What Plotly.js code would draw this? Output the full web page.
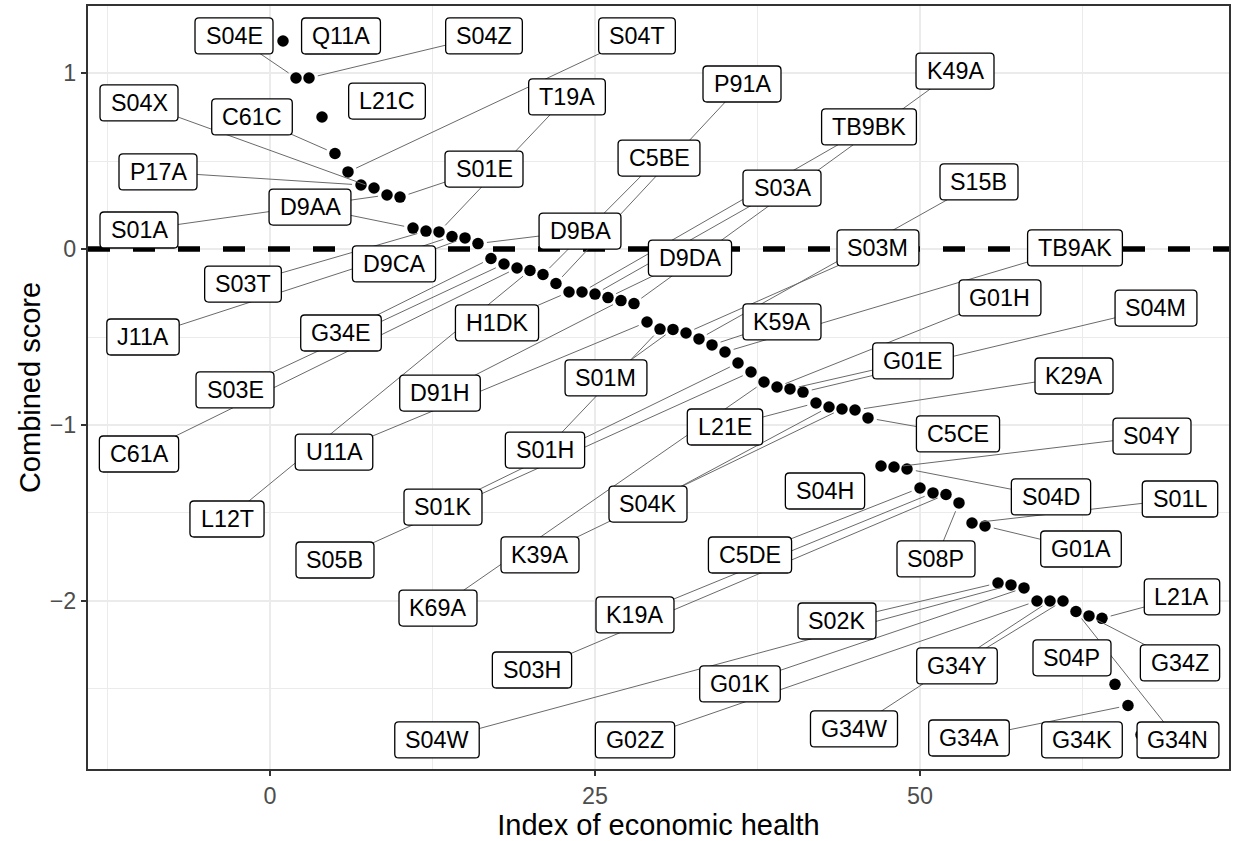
<!DOCTYPE html>
<html><head><meta charset="utf-8">
<script src="https://cdn.plot.ly/plotly-3.0.1.min.js"></script>
<style>html,body{margin:0;padding:0;background:#fff}</style>
</head><body><div id="chart" style="width:1235px;height:841px"></div>
<script>
// ---- data ----
const economicIndex = [1,2,3,4,5,6,7,8,9,10,11,12,13,14,15,16,17,18,19,20,21,22,23,24,25,26,27,28,29,30,
  31,32,33,34,35,36,37,38,39,40,41,42,43,44,45,46,47,48,49,50,51,52,53,54,55,56,57,58,59,60,61,62,63,64,65,66,67];
const combinedScore = [1.182,0.972,0.972,0.750,0.543,0.438,0.364,0.347,0.307,0.295,
  0.119,0.102,0.097,0.071,0.063,0.031,-0.054,-0.085,-0.108,-0.122,
  -0.145,-0.196,-0.244,-0.244,-0.256,-0.276,-0.293,-0.310,-0.415,-0.455,
  -0.457,-0.477,-0.511,-0.545,-0.585,-0.648,-0.699,-0.756,-0.784,-0.795,
  -0.813,-0.875,-0.898,-0.909,-0.915,-0.960,-1.233,-1.239,-1.250,-1.358,
  -1.386,-1.395,-1.443,-1.557,-1.574,-1.898,-1.909,-1.926,-2.000,-2.000,
  -2.000,-2.060,-2.085,-2.099,-2.474,-2.594,-2.761];
const pointLabels = ['Q11A','S04E','S04Z','L21C','C61C','S04T','P17A','S04X','S01A','S01E',
  'D9AA','S03T','T19A','J11A','D9CA','D9BA','G34E','S03E','C61A','L12T',
  'C5BE','P91A','H1DK','TB9BK','S03A','D9DA','D91H','K49A','U11A','S01H',
  'S01M','S03M','S15B','K59A','TB9AK','S01K','S05B','K69A','G01H','G01E',
  'S04M','L21E','S04K','K39A','K29A','C5CE','S04H','S04Y','S04D','C5DE',
  'K19A','S03H','S08P','S01L','G01A','S02K','S04W','G01K','G02Z','G34W',
  'G34Y','G34N','G34Z','L21A','S04P','G34A','G34K'];
const xTickValues = [0, 25, 50];
const xTickLabels = ['0', '25', '50'];
const yTickValues = [-2, -1, 0, 1];
const yTickLabels = ['\u22122', '\u22121', '0', '1'];
const referenceLevel = 0;

// ---- axis ranges ----
const X_RANGE = [-14.0, 73.77];
const Y_RANGE = [-2.955, 1.381];

// ---- label layout (repelled label centre offset from its point, px: right, down) ----
const labelDx = [58,-62,175,65,-83,289,-203,-235,-248,84,
  -103,-183,128,-309,-71,102,-150,-269,-378,-303,
  116,186,-72,287,187,82,-181,321,-313,-115,
  -67,192,280,70,350,-295,-416,-326,223,123,
  353,-91,-181,-302,219,90,-56,258,144,-170,
  -298,-414,-23,208,96,-161,-574,-284,-402,-196,
  -106,102,91,80,-43,-159,-59];
const labelDy = [-5,-42,-42,-16,-36.5,-136,-13,-85,35,-28,
  -21,53,-135,100.5,26,-12.5,74.5,126,186,248.5,
  -116.5,-199.5,31,-165,-106,-39.5,92.5,-232.5,130,121,
  48.5,-85,-157,-23,-104,144,188,226,-89,-28,
  -84,24,97,146,-34,16,25,-31,28,67,
  122,175.5,56,-24,23,38,155,96,139,128,
  65,128.5,47,-21.5,-26.5,32.5,5];

const LABEL_FONT = 23.3;
const FONT = "'Liberation Sans', Arial, Helvetica, sans-serif";
const STANDOFF = 9;
const BOX_H = 36;

const cv = document.createElement('canvas').getContext('2d');
cv.font = LABEL_FONT + "px 'Liberation Sans', Arial, sans-serif";

const segShapes = [], boxShapes = [], annotations = [];
for (let i = 0; i < economicIndex.length; i++) {
  const px = economicIndex[i], py = combinedScore[i];
  const dx = labelDx[i], dy = labelDy[i];
  let tw = cv.measureText(pointLabels[i]).width;
  if (!tw || !isFinite(tw)) tw = pointLabels[i].length * 0.62 * LABEL_FONT;
  const w = tw + 21, h = BOX_H;
  const len = Math.hypot(dx, dy);
  const tx = dx !== 0 ? (w / 2) / Math.abs(dx) : Infinity;
  const ty = dy !== 0 ? (h / 2) / Math.abs(dy) : Infinity;
  const tEdge = Math.min(tx, ty);
  const segLen = len * (1 - tEdge) - STANDOFF;
  if (tEdge < 1 && segLen > 20) {
    const sx = dx / len * STANDOFF, sy = dy / len * STANDOFF;
    segShapes.push({type:'line', xref:'x', yref:'y', xsizemode:'pixel', ysizemode:'pixel',
      xanchor:px, yanchor:py, x0:sx, y0:-sy, x1:dx, y1:-dy, layer:'above',
      line:{color:'#6a6a6a', width:1}});
  }
  const x0 = dx - w / 2, x1 = dx + w / 2, y0 = -dy - h / 2, y1 = -dy + h / 2, r = 4;
  const path = `M${x0 + r},${y0} L${x1 - r},${y0} Q${x1},${y0} ${x1},${y0 + r} L${x1},${y1 - r} Q${x1},${y1} ${x1 - r},${y1} L${x0 + r},${y1} Q${x0},${y1} ${x0},${y1 - r} L${x0},${y0 + r} Q${x0},${y0} ${x0 + r},${y0} Z`;
  boxShapes.push({type:'path', xref:'x', yref:'y', xsizemode:'pixel', ysizemode:'pixel',
    xanchor:px, yanchor:py, path:path, fillcolor:'#ffffff', layer:'above',
    line:{color:'#000000', width:1.3}});
  annotations.push({x:px, y:py, xref:'x', yref:'y', text:pointLabels[i], showarrow:false,
    xshift:dx, yshift:-dy, xanchor:'center', yanchor:'middle',
    font:{family:FONT, size:LABEL_FONT, color:'#000000'}});
}

const refTrace = {x:X_RANGE, y:[referenceLevel, referenceLevel], type:'scatter', mode:'lines',
  line:{color:'#000000', width:5.5, dash:'22px,23px'}, hoverinfo:'skip', showlegend:false, cliponaxis:true};
const trace = {x:economicIndex, y:combinedScore, type:'scatter', mode:'markers',
  marker:{color:'#000000', size:11.5, line:{width:0}}, hoverinfo:'skip', showlegend:false};

const layout = {
  width:1235, height:841,
  margin:{l:88, r:6, t:6, b:72},
  paper_bgcolor:'#ffffff', plot_bgcolor:'#ffffff',
  showlegend:false,
  font:{family:FONT, color:'#000000'},
  xaxis:{range:X_RANGE, tickmode:'array', tickvals:xTickValues, ticktext:xTickLabels,
    ticks:'outside', ticklen:5.5, tickwidth:1.5, tickcolor:'#333333',
    tickfont:{family:FONT, size:23.3, color:'#4D4D4D'},
    showgrid:true, gridcolor:'#EBEBEB', gridwidth:2,
    minor:{tick0:0, dtick:12.5, showgrid:true, gridcolor:'#EBEBEB', gridwidth:1, ticks:''},
    zeroline:false, showline:true, mirror:true, linecolor:'#333333', linewidth:1.6,
    automargin:false,
    title:{text:'Index of economic health', font:{family:FONT, size:29, color:'#000000'}, standoff:8}},
  yaxis:{range:Y_RANGE, tickmode:'array', tickvals:yTickValues, ticktext:yTickLabels,
    ticks:'outside', ticklen:5.5, tickwidth:1.5, tickcolor:'#333333',
    tickfont:{family:FONT, size:23.3, color:'#4D4D4D'},
    showgrid:true, gridcolor:'#EBEBEB', gridwidth:2,
    minor:{tick0:0, dtick:0.5, showgrid:true, gridcolor:'#EBEBEB', gridwidth:1, ticks:''},
    zeroline:false, showline:true, mirror:true, linecolor:'#333333', linewidth:1.6,
    automargin:false,
    title:{text:'Combined score', font:{family:FONT, size:29, color:'#000000'}, standoff:0}},
  shapes:segShapes.concat(boxShapes),
  annotations:annotations
};

Plotly.newPlot('chart', [refTrace, trace], layout, {displayModeBar:false, staticPlot:true});
</script>
</body></html>
